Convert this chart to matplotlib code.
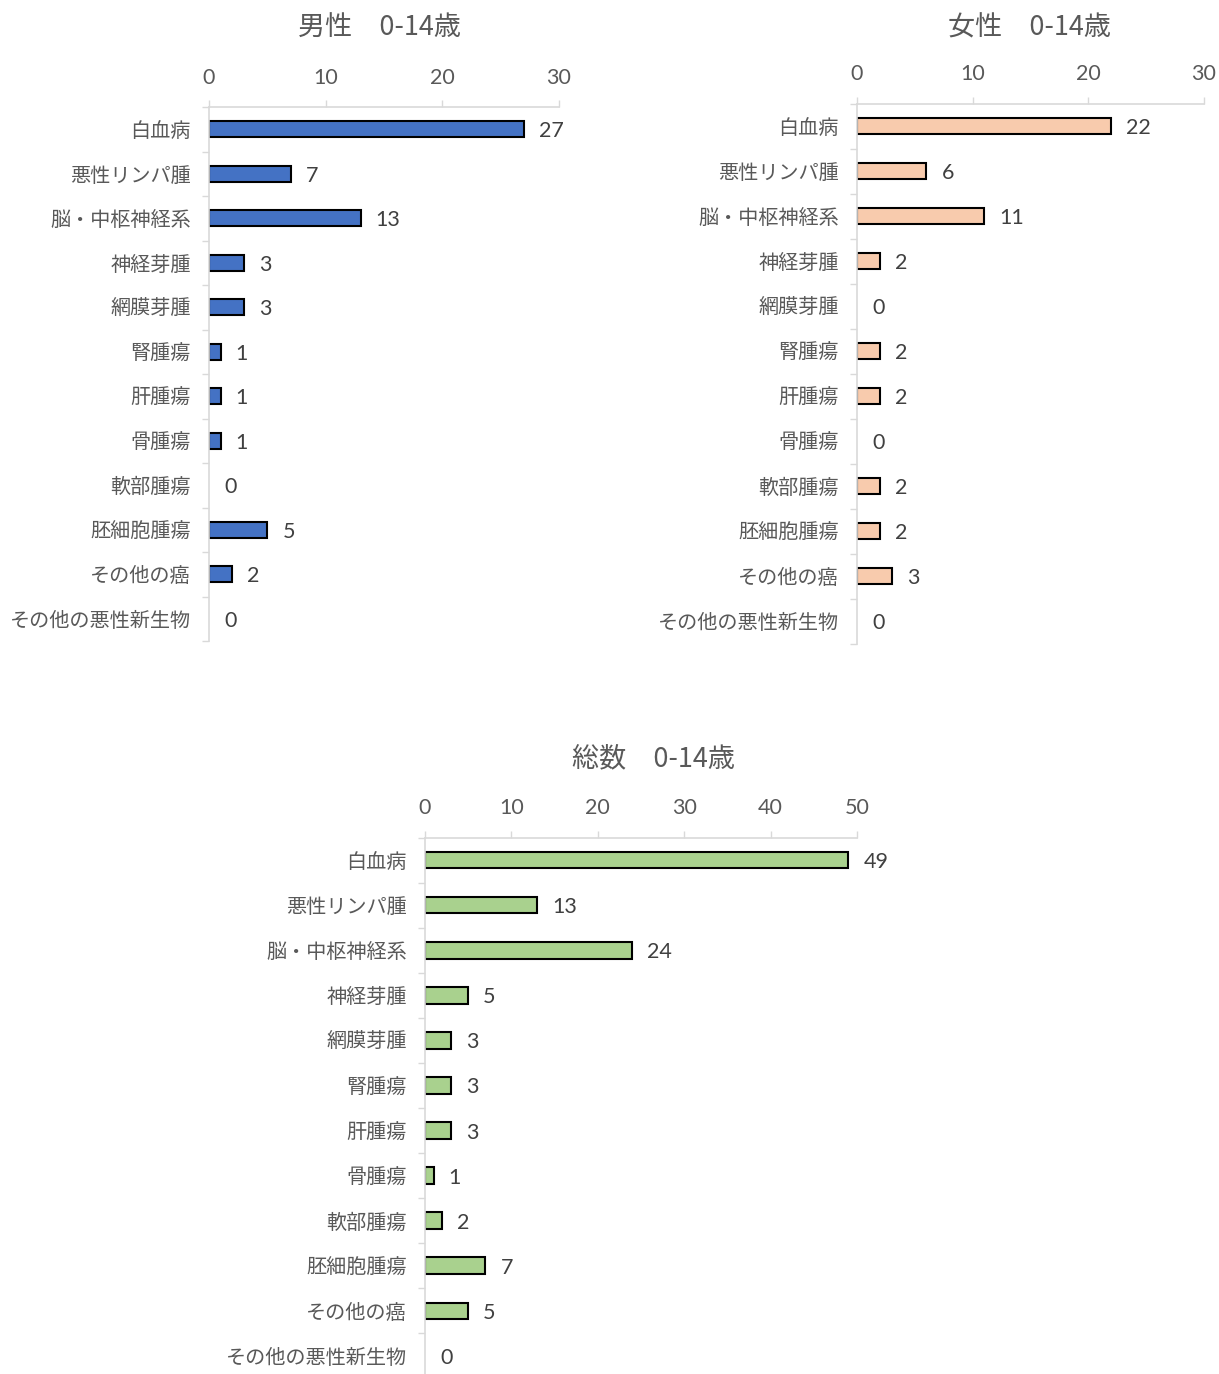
import matplotlib
matplotlib.use("Agg")
import matplotlib.pyplot as plt
from matplotlib.ticker import FixedLocator

plt.rcParams["font.family"] = ["Noto Sans CJK JP", "DejaVu Sans"]

categories = ["白血病", "悪性リンパ腫", "脳・中枢神経系", "神経芽腫", "網膜芽腫", "腎腫瘍",
              "肝腫瘍", "骨腫瘍", "軟部腫瘍", "胚細胞腫瘍", "その他の癌", "その他の悪性新生物"]
male = [27, 7, 13, 3, 3, 1, 1, 1, 0, 5, 2, 0]
female = [22, 6, 11, 2, 0, 2, 2, 0, 2, 2, 3, 0]
total = [49, 13, 24, 5, 3, 3, 3, 1, 2, 7, 5, 0]

titles = ["男性\u30000-14歳", "女性\u30000-14歳", "総数\u30000-14歳"]
xmax = [30, 30, 50]
colors = ["#4472C4", "#F8CBAD", "#A9D18E"]

W, H = 1219, 1374
fig = plt.figure(figsize=(W / 100, H / 100), dpi=100)

# axes boxes in pixels: left, top, right, bottom
boxes = [(209, 107, 559, 641), (857, 103.5, 1204, 643.5), (425, 837.5, 857, 1378.5)]
title_pos = [(380, 28), (1030, 28), (653, 759)]

GRAY = "#595959"
SPINE = "#D9D9D9"
NUM_FONT = ["Lato", "Noto Sans CJK JP"]


def draw(box, vals, color, title, tpos, top):
    l, t, r, b = box
    ax = fig.add_axes([l / W, 1 - b / H, (r - l) / W, (b - t) / H])
    y = list(range(len(categories)))
    edges = ["black" if v > 0 else "none" for v in vals]
    ax.barh(y, vals, height=0.37, color=color, edgecolor=edges, linewidth=1.5)
    ax.set_xlim(0, top)
    ax.set_ylim(len(categories) - 0.5, -0.5)

    for yi, v in zip(y, vals):
        ax.annotate(str(v), (v, yi), xytext=(15, -2), textcoords="offset pixels",
                    ha="left", va="center", fontsize=15.5, color="#404040",
                    family=NUM_FONT)

    ax.xaxis.tick_top()
    ax.set_xticks(range(0, top + 1, 10))
    ax.set_xticklabels([str(v) for v in range(0, top + 1, 10)], family=NUM_FONT)
    ax.tick_params(axis="x", which="major", length=5, width=1, color=SPINE,
                   labelsize=15.5, labelcolor=GRAY, pad=9)

    ax.set_yticks(y)
    ax.set_yticklabels(categories, fontsize=14.5, color=GRAY)
    ax.tick_params(axis="y", which="major", length=0, pad=13)
    ax.yaxis.set_minor_locator(FixedLocator([i - 0.5 for i in range(len(categories) + 1)]))
    ax.tick_params(axis="y", which="minor", length=5, width=1, color=SPINE)

    for s in ["right", "bottom"]:
        ax.spines[s].set_visible(False)
    for s in ["top", "left"]:
        ax.spines[s].set_color(SPINE)
        ax.spines[s].set_linewidth(1.2)

    fig.text(tpos[0] / W, 1 - tpos[1] / H, title, ha="center", va="center",
             fontsize=19.5, color=GRAY)


for box, vals, color, title, tpos, top in zip(boxes, [male, female, total], colors,
                                              titles, title_pos, xmax):
    draw(box, vals, color, title, tpos, top)

fig.savefig("out.png", dpi=100)
